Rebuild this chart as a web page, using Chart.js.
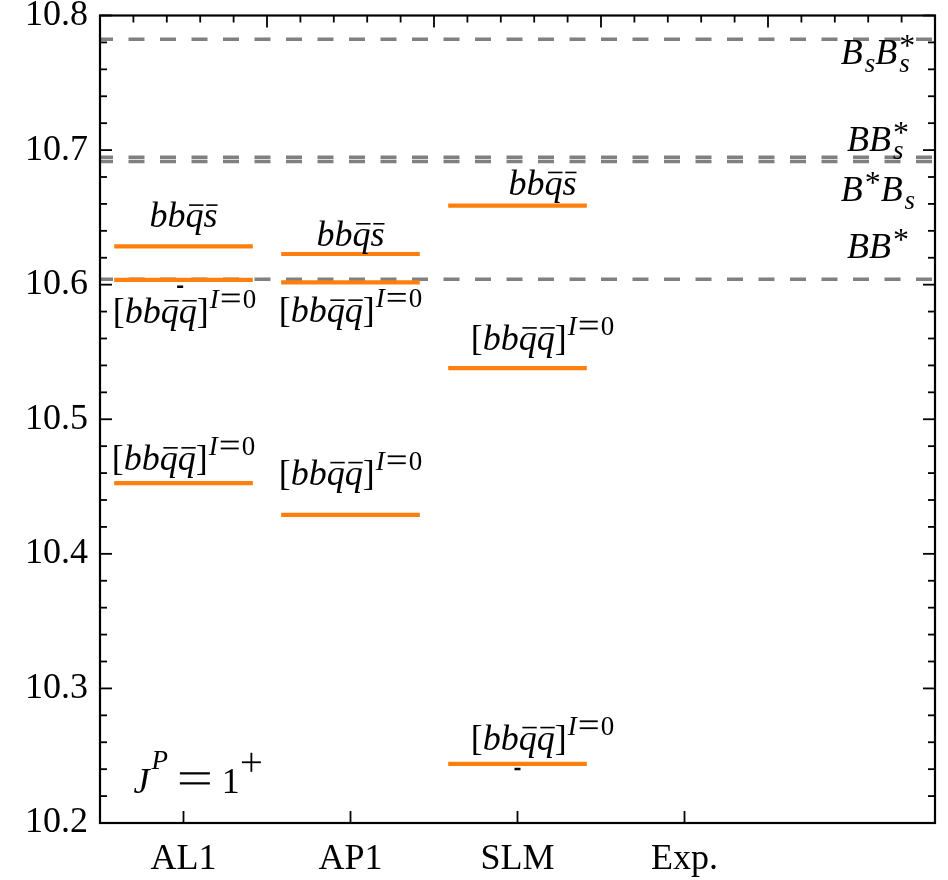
<!DOCTYPE html>
<html>
<head>
<meta charset="utf-8">
<script src="https://cdn.jsdelivr.net/npm/chart.js@4.4.1/dist/chart.umd.min.js"></script>
<style>
  html, body { margin: 0; padding: 0; background: #fff; }
  canvas { display: block; }
</style>
</head>
<body>
<canvas id="levels" width="948" height="880"></canvas>
<script>
const categories = ['AL1', 'AP1', 'SLM', 'Exp.'];

// tetraquark masses (GeV) per model
const al1Masses = [10.6285, 10.6035, 10.4526];
const ap1Masses = [10.6228, 10.6017, 10.4290];
const slmMasses = [10.6587, 10.5380, 10.2440];
const expMasses = [];

const al1Tags = ['bb\\bar{q}\\bar{s}', '[bb\\bar{q}\\bar{q}]^{I=0}', '[bb\\bar{q}\\bar{q}]^{I=0}'];
const ap1Tags = ['bb\\bar{q}\\bar{s}', '[bb\\bar{q}\\bar{q}]^{I=0}', '[bb\\bar{q}\\bar{q}]^{I=0}'];
const slmTags = ['bb\\bar{q}\\bar{s}', '[bb\\bar{q}\\bar{q}]^{I=0}', '[bb\\bar{q}\\bar{q}]^{I=0}'];
const expTags = [];

// meson-meson thresholds
const thresholdNames = ['BB^*', 'B^*B_s', 'BB_s^*', 'B_sB_s^*'];
const thresholdMasses = [10.6040, 10.6916, 10.6947, 10.7823];

// small uncertainty marks
const errX = [0.98, 3.0];
const errMasses = [10.5985, 10.2401];

const yTicks = [10.2, 10.3, 10.4, 10.5, 10.6, 10.7, 10.8];
const quantumLabel = 'J^P = 1^+';

// label placement, pixel offsets from the centre of each level
const tagShift = {
  AL1: [[0, -19], [1, 43], [0, -13]],
  AP1: [[0, -8], [0, 40], [0, -30]],
  SLM: [[25, -11], [25, -18], [25, -14]],
};
const thresholdShift = [-21, 40, -6, 25];
const thresholdTagX = 5.158;

const ORANGE = '#ff7f0e';
const GREY = '#808080';
const SERIF = '"Liberation Serif", "Times New Roman", serif';
const MAIN = 36, SCRIPT = 27;
const HALF = 0.415;

const models = [
  { name: 'AL1', masses: al1Masses, tags: al1Tags },
  { name: 'AP1', masses: ap1Masses, tags: ap1Tags },
  { name: 'SLM', masses: slmMasses, tags: slmTags },
  { name: 'Exp.', masses: expMasses, tags: expTags },
];

const datasets = [];
models.forEach((m, i) => {
  const c = i + 1;
  m.masses.forEach(v => {
    datasets.push({
      data: [{ x: c - HALF, y: v }, { x: c + HALF, y: v }],
      borderColor: ORANGE, borderWidth: 4.2, pointRadius: 0, order: 0,
    });
  });
});
thresholdMasses.forEach(v => {
  datasets.push({
    data: [{ x: 0.5, y: v }, { x: 5.5, y: v }],
    borderColor: GREY, borderWidth: 3.5, borderDash: [16, 15.5], borderDashOffset: 3,
    pointRadius: 0, order: 1,
  });
});
datasets.push({
  type: 'scatter',
  data: errX.map((x, i) => ({ x, y: errMasses[i] })),
  pointStyle: 'line', pointRadius: 3, borderColor: '#000', borderWidth: 2.5, order: -1,
});

// tiny TeX-ish parser: letters italic, \bar{}, ^ and _ scripts
function parseTex(src) {
  const toks = [];
  let i = 0, lastScript = null;
  const group = () => {
    if (src[i] === '{') {
      const j = src.indexOf('}', i);
      const g = src.slice(i + 1, j);
      i = j + 1;
      return g;
    }
    return src[i++];
  };
  while (i < src.length) {
    const c = src[i];
    if (c === ' ') { i++; continue; }
    if (src.startsWith('\\bar', i)) {
      i += 4;
      for (const ch of group()) toks.push({ ch, lvl: 'main', bar: true });
      lastScript = null;
      continue;
    }
    if (c === '^' || c === '_') {
      i++;
      const lvl = c === '^' ? 'sup' : 'sub';
      const stack = lastScript !== null && lastScript !== lvl;
      [...group()].forEach((ch, k) => toks.push({ ch, lvl, stack: stack && k === 0, first: k === 0 }));
      lastScript = lvl;
      continue;
    }
    toks.push({ ch: c, lvl: 'main' });
    i++;
    lastScript = null;
  }
  return toks;
}

// '=' and '+' are drawn as bars, wider than the serif glyphs
const RULE_W = { main: { '=': 32, '+': 30 }, script: { '=': 20, '+': 21 } };

function layoutTex(ctx, toks) {
  let x = 0, maxX = 0, scriptStart = 0, supRaise = 0;
  const out = [];
  toks.forEach((t, n) => {
    const prev = toks[n - 1];
    const kind = t.lvl === 'main' ? 'main' : 'script';
    let size = kind === 'main' ? MAIN : SCRIPT;
    if (t.ch === '*') size = 32;
    const italic = /[A-Za-z]/.test(t.ch);
    const font = (italic ? 'italic ' : '') + size + 'px ' + SERIF;
    ctx.font = font;
    const rule = RULE_W[kind][t.ch];
    const w = rule || ctx.measureText(t.ch).width;
    if (t.lvl !== 'main' && (!prev || prev.lvl === 'main')) {
      scriptStart = x + (prev && /[A-Za-z]/.test(prev.ch) ? 2 : 1);
      x = scriptStart;
    }
    if (t.stack) x = scriptStart;
    let pad = 0;
    if (t.ch === '=') pad = kind === 'main' ? 11 : 2;
    let dy = 0;
    if (t.lvl === 'sub') dy = 8;
    if (t.lvl === 'sup') {
      if (t.first) {
        const base = toks[n - 1];
        if (t.ch === '*') supRaise = 8.5;
        else if (base && base.ch === ']') supRaise = 15;
        else supRaise = 24;
      }
      dy = -supRaise;
    }
    out.push({ ch: t.ch, font, size, x: x + pad, dy, w, bar: t.bar, rule: !!rule, kind });
    x += w + 2 * pad;
    maxX = Math.max(maxX, x);
    x = maxX;
  });
  return { glyphs: out, width: maxX };
}

function drawRule(ctx, g, x, base) {
  const k = g.kind === 'main' ? 1 : SCRIPT / 39;
  const th = g.kind === 'main' ? 2.2 : 1.8;
  const vis = g.w - 2;
  if (g.ch === '=') {
    ctx.fillRect(x + 1, base - 9.5 * k - th / 2, vis, th);
    ctx.fillRect(x + 1, base - 19.5 * k - th / 2, vis, th);
  } else {
    const cy = base - 9.5 * k;
    const cx = x + g.w / 2;
    ctx.fillRect(x + 1, cy - th / 2, vis, th);
    ctx.fillRect(cx - th / 2, cy - vis / 2, th, vis);
  }
}

function drawTex(ctx, src, px, py, align) {
  const { glyphs, width } = layoutTex(ctx, parseTex(src));
  const x0 = align === 'left' ? px : px - width / 2;
  ctx.fillStyle = '#000';
  ctx.textBaseline = 'alphabetic';
  ctx.textAlign = 'left';
  glyphs.forEach(g => {
    if (g.rule) {
      drawRule(ctx, g, x0 + g.x, py + g.dy);
      return;
    }
    ctx.font = g.font;
    ctx.fillText(g.ch, x0 + g.x, py + g.dy);
    if (g.bar) ctx.fillRect(x0 + g.x + 0.2 * g.w, py - 23, 0.8 * g.w, 1.6);
  });
}

const frameAndLabels = {
  id: 'frameAndLabels',
  afterDatasetsDraw(chart) {
    const { ctx, chartArea: a, scales: { x, y } } = chart;
    ctx.save();
    ctx.strokeStyle = '#000';
    const seg = (x1, y1, x2, y2, w) => {
      ctx.lineWidth = w;
      ctx.beginPath();
      ctx.moveTo(x1, y1);
      ctx.lineTo(x2, y2);
      ctx.stroke();
    };
    // left / right: major every 0.1, minor every 0.02
    for (let k = 0; k <= 30; k++) {
      const py = y.getPixelForValue(10.2 + k * 0.02);
      const len = k % 5 === 0 ? 12 : 7;
      seg(a.left, py, a.left + len, py, 1.8);
      seg(a.right, py, a.right - len, py, 1.8);
    }
    // bottom: one tick per model
    categories.forEach((c, i) => {
      const px = x.getPixelForValue(i + 1);
      seg(px, a.bottom, px, a.bottom - 12, 1.8);
    });
    // top: minor every 0.2, major at half-integers
    for (let k = 1; k < 25; k++) {
      const px = x.getPixelForValue(0.5 + k * 0.2);
      const len = k % 5 === 0 ? 12 : 7;
      seg(px, a.top, px, a.top + len, 1.8);
    }
    ctx.lineWidth = 2.2;
    ctx.strokeRect(a.left, a.top, a.right - a.left, a.bottom - a.top);

    models.forEach((m, i) => {
      m.masses.forEach((v, j) => {
        const [dx, dy] = tagShift[m.name][j];
        drawTex(ctx, m.tags[j], x.getPixelForValue(i + 1) + dx, y.getPixelForValue(v) + dy, 'center');
      });
    });
    thresholdMasses.forEach((v, j) => {
      drawTex(ctx, thresholdNames[j], x.getPixelForValue(thresholdTagX), y.getPixelForValue(v) + thresholdShift[j], 'center');
    });
    drawTex(ctx, quantumLabel, x.getPixelForValue(0.7), y.getPixelForValue(10.2224), 'left');
    ctx.restore();
  }
};

new Chart(document.getElementById('levels'), {
  type: 'line',
  data: { datasets },
  options: {
    responsive: false,
    animation: false,
    layout: { padding: { top: 15.5, right: 13, left: 0, bottom: 0 } },
    plugins: { legend: { display: false }, tooltip: { enabled: false } },
    scales: {
      x: {
        type: 'linear', min: 0.5, max: 5.5,
        grid: { display: false, drawTicks: false },
        border: { display: false },
        afterBuildTicks: s => { s.ticks = categories.map((c, i) => ({ value: i + 1 })); },
        afterFit: s => { s.height = 57; },
        ticks: {
          padding: 22, color: '#000',
          font: { family: SERIF, size: 36, lineHeight: 0.8 },
          callback: v => categories[v - 1],
        },
      },
      y: {
        min: 10.2, max: 10.8,
        grid: { display: false, drawTicks: false },
        border: { display: false },
        afterBuildTicks: s => { s.ticks = yTicks.map(v => ({ value: v })); },
        afterFit: s => { s.width = 100; },
        ticks: {
          padding: 12, color: '#000',
          font: { family: SERIF, size: 36, lineHeight: 0.1 },
          callback: v => v.toFixed(1),
        },
      },
    },
  },
  plugins: [frameAndLabels],
});
</script>
</body>
</html>
